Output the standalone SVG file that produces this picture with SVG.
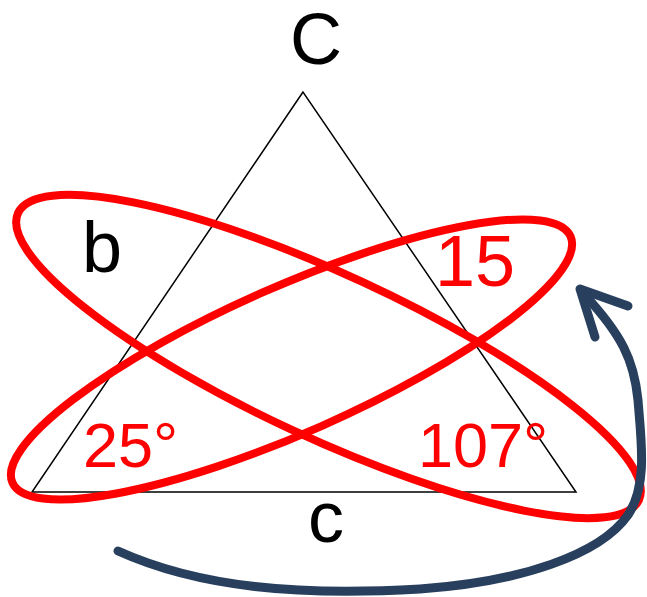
<svg xmlns="http://www.w3.org/2000/svg" width="647" height="597" viewBox="0 0 647 597">
<style>
.lbl{font-family:"Liberation Sans",Arial,sans-serif;}
.blk{fill:#000;font-size:72px;}
.red{fill:#FF0000;}
.loop{fill:none;stroke:#FF0000;stroke-width:8;}
.arrow{fill:none;stroke:#283F5E;stroke-width:9;stroke-linecap:round;stroke-linejoin:round;}
</style>
<rect width="647" height="597" fill="#fff"/>
<g id="triangle">
<polygon points="303,92 32,492 576,492" fill="none" stroke="#000" stroke-width="1.5"/>
</g>
<g id="ellipse-b">
<ellipse cx="328.5" cy="356.5" rx="342" ry="82" transform="rotate(24.8 328.5 356.5)" class="loop"/>
</g>
<g id="ellipse-15">
<ellipse cx="291.5" cy="359.5" rx="305" ry="73" transform="rotate(-23.8 291.5 359.5)" class="loop"/>
</g>
<g id="label-C"><text class="lbl blk" x="316" y="64" text-anchor="middle">C</text></g>
<g id="label-b"><text class="lbl blk" x="82" y="272">b</text></g>
<g id="label-15"><text class="lbl red" x="435" y="286" font-size="72">15</text></g>
<g id="label-25"><text class="lbl red" x="83" y="467" font-size="63">25°</text></g>
<g id="label-107"><text class="lbl red" x="418" y="467" font-size="63">107°</text></g>
<g id="label-c"><text class="lbl blk" x="326" y="542" text-anchor="middle">c</text></g>
<g id="connectors">
<path class="arrow" d="M118,551 C200,588 300,596 420,589 C520,582 600,555 628,515 C648,485 641,440 638,400 C634,360 622,335 583,293"/>
<polyline class="arrow" points="628,306 580,289 595,337"/>
</g>
</svg>
